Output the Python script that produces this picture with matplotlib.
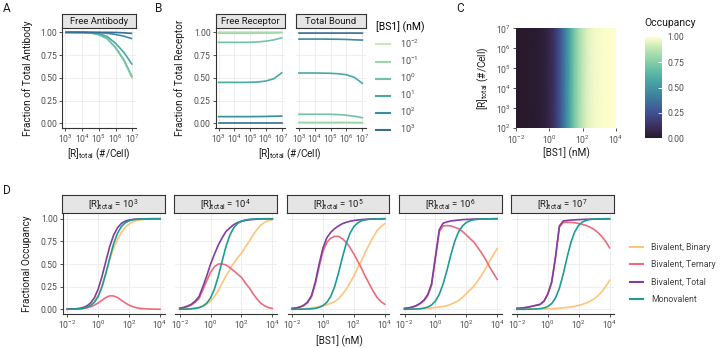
import matplotlib
matplotlib.use("Agg")
import matplotlib.pyplot as plt
from matplotlib.colors import LinearSegmentedColormap
from matplotlib.lines import Line2D
from matplotlib.ticker import FixedLocator, LogFormatterMathtext, NullLocator

plt.rcParams["font.family"] = ["Roboto", "DejaVu Sans"]
plt.rcParams["mathtext.fontset"] = "custom"
plt.rcParams["mathtext.rm"] = "Roboto"
plt.rcParams["mathtext.it"] = "Roboto:italic"
plt.rcParams["mathtext.bf"] = "Roboto:bold"

# ---- panel A / B data: x = log10 [R]total
r_exp = [3, 3.5, 4, 4.5, 5, 5.5, 6, 6.5, 7]
bs1_levels = ["$10^{-2}$", "$10^{-1}$", "$10^{0}$", "$10^{1}$", "$10^{2}$", "$10^{3}$"]
bs1_colors = ["#c6e9b2", "#9bd6a8", "#70c2a6", "#49a8a5", "#3a8c9f", "#376e95"]

free_ab = [
    [1.0, 1.0, 0.999, 0.994, 0.975, 0.93, 0.83, 0.69, 0.495],
    [1.0, 1.0, 0.999, 0.994, 0.975, 0.93, 0.83, 0.69, 0.498],
    [1.0, 1.0, 0.999, 0.994, 0.976, 0.932, 0.835, 0.70, 0.51],
    [1.0, 1.0, 0.999, 0.997, 0.985, 0.955, 0.88, 0.78, 0.645],
    [1.0, 1.0, 1.0, 0.999, 0.997, 0.99, 0.977, 0.958, 0.93],
    [1.0, 1.0, 1.0, 1.0, 1.0, 1.0, 0.999, 0.995, 0.988],
]
free_rec = [
    [0.999, 0.999, 0.999, 0.999, 0.999, 0.999, 0.999, 0.999, 0.999],
    [0.99, 0.99, 0.99, 0.99, 0.99, 0.991, 0.992, 0.993, 0.995],
    [0.89, 0.89, 0.89, 0.89, 0.891, 0.895, 0.903, 0.917, 0.94],
    [0.45, 0.45, 0.45, 0.45, 0.451, 0.455, 0.465, 0.49, 0.555],
    [0.074, 0.074, 0.074, 0.074, 0.074, 0.075, 0.076, 0.078, 0.08],
    [0.008, 0.008, 0.008, 0.008, 0.008, 0.008, 0.008, 0.008, 0.008],
]
total_bound = [
    [0.001, 0.001, 0.001, 0.001, 0.001, 0.001, 0.001, 0.001, 0.001],
    [0.01, 0.01, 0.01, 0.01, 0.01, 0.01, 0.01, 0.009, 0.008],
    [0.10, 0.10, 0.10, 0.10, 0.099, 0.096, 0.089, 0.078, 0.062],
    [0.553, 0.553, 0.553, 0.552, 0.55, 0.545, 0.534, 0.505, 0.44],
    [0.926, 0.926, 0.926, 0.926, 0.925, 0.924, 0.922, 0.918, 0.915],
    [0.992, 0.992, 0.992, 0.992, 0.992, 0.992, 0.992, 0.992, 0.991],
]

# ---- panel C data: occupancy vs log10 [BS1], rows over log10 [R]total
heat_bs1_exp = [-2, -1.75, -1.5, -1.25, -1, -0.75, -0.5, -0.25, 0, 0.25, 0.5, 0.75, 1,
                1.25, 1.5, 1.75, 2, 2.25, 2.5, 2.75, 3, 3.25, 3.5, 3.75, 4]
heat_r_exp = [2, 7]
heat_occ = [0.001, 0.001, 0.003, 0.005, 0.008, 0.014, 0.025, 0.043, 0.074, 0.124, 0.20, 0.31, 0.44,
            0.585, 0.715, 0.817, 0.888, 0.934, 0.962, 0.978, 0.988, 0.993, 0.996, 0.998, 0.999]

# ---- panel D data: x = log10 [BS1] (nM)
bs1_exp = [-2, -1.75, -1.5, -1.25, -1, -0.75, -0.5, -0.25, 0, 0.25, 0.5, 0.75, 1,
           1.25, 1.5, 1.75, 2, 2.25, 2.5, 2.75, 3, 3.25, 3.5, 3.75, 4]
r_panels = [3, 4, 5, 6, 7]

binary_r3 = [0.0, 0.001, 0.003, 0.005, 0.010, 0.020, 0.041, 0.081, 0.154, 0.265, 0.404, 0.548, 0.673,
             0.771, 0.848, 0.903, 0.941, 0.966, 0.980, 0.989, 0.994, 0.997, 0.998, 0.999, 0.999]
ternary_r3 = [0.001, 0.001, 0.002, 0.004, 0.008, 0.015, 0.027, 0.045, 0.07, 0.10, 0.13, 0.148, 0.147,
              0.13, 0.10, 0.07, 0.045, 0.027, 0.016, 0.009, 0.005, 0.003, 0.002, 0.001, 0.001]
total_r3 = [0.001, 0.002, 0.005, 0.009, 0.018, 0.035, 0.068, 0.126, 0.224, 0.365, 0.534, 0.696, 0.820,
            0.901, 0.948, 0.973, 0.986, 0.993, 0.996, 0.998, 0.999, 1.0, 1.0, 1.0, 1.0]
mono_r3 = [0.001, 0.001, 0.003, 0.005, 0.010, 0.021, 0.040, 0.077, 0.142, 0.249, 0.398, 0.569, 0.725,
           0.840, 0.913, 0.954, 0.977, 0.988, 0.994, 0.997, 0.998, 0.999, 1.0, 1.0, 1.0]

binary_r4 = [0.002, 0.003, 0.005, 0.008, 0.013, 0.022, 0.035, 0.055, 0.09, 0.14, 0.21, 0.29, 0.37,
             0.44, 0.51, 0.57, 0.62, 0.69, 0.75, 0.82, 0.88, 0.93, 0.96, 0.98, 0.99]
ternary_r4 = [0.010, 0.017, 0.030, 0.047, 0.077, 0.118, 0.215, 0.315, 0.41, 0.47, 0.50, 0.50, 0.49,
              0.46, 0.425, 0.388, 0.352, 0.291, 0.238, 0.172, 0.115, 0.067, 0.038, 0.019, 0.009]
total_r4 = [0.012, 0.02, 0.035, 0.055, 0.09, 0.14, 0.25, 0.37, 0.50, 0.61, 0.71, 0.79, 0.86,
            0.90, 0.935, 0.958, 0.972, 0.981, 0.988, 0.992, 0.995, 0.997, 0.998, 0.999, 0.999]
mono_r4 = [0.001, 0.001, 0.002, 0.005, 0.009, 0.018, 0.035, 0.068, 0.126, 0.224, 0.365, 0.534, 0.696,
           0.820, 0.901, 0.948, 0.973, 0.986, 0.993, 0.996, 0.998, 0.999, 1.0, 1.0, 1.0]

binary_r5 = [0.001, 0.002, 0.003, 0.005, 0.008, 0.015, 0.022, 0.03, 0.04, 0.05, 0.065, 0.085, 0.115,
             0.165, 0.22, 0.292, 0.37, 0.456, 0.54, 0.634, 0.716, 0.798, 0.869, 0.914, 0.945]
ternary_r5 = [0.009, 0.013, 0.022, 0.04, 0.072, 0.135, 0.278, 0.47, 0.64, 0.74, 0.785, 0.805, 0.805,
              0.78, 0.74, 0.68, 0.61, 0.53, 0.45, 0.36, 0.28, 0.20, 0.13, 0.085, 0.055]
total_r5 = [0.01, 0.015, 0.025, 0.045, 0.08, 0.15, 0.30, 0.50, 0.68, 0.79, 0.85, 0.89, 0.92,
            0.945, 0.96, 0.972, 0.98, 0.986, 0.99, 0.994, 0.996, 0.998, 0.999, 0.999, 1.0]
mono_r5 = [0.0, 0.0, 0.001, 0.001, 0.003, 0.005, 0.010, 0.021, 0.040, 0.077, 0.142, 0.249, 0.398,
           0.569, 0.725, 0.840, 0.913, 0.954, 0.977, 0.988, 0.994, 0.997, 0.999, 0.999, 1.0]

binary_r6 = [0.001, 0.002, 0.003, 0.004, 0.006, 0.008, 0.011, 0.015, 0.02, 0.025, 0.03, 0.04, 0.055,
             0.075, 0.095, 0.13, 0.172, 0.214, 0.256, 0.317, 0.378, 0.449, 0.529, 0.60, 0.67]
ternary_r6 = [0.009, 0.013, 0.022, 0.036, 0.059, 0.092, 0.149, 0.265, 0.56, 0.855, 0.92, 0.925, 0.92,
              0.905, 0.89, 0.86, 0.82, 0.78, 0.74, 0.68, 0.62, 0.55, 0.47, 0.40, 0.33]
total_r6 = [0.01, 0.015, 0.025, 0.04, 0.065, 0.10, 0.16, 0.28, 0.58, 0.88, 0.95, 0.965, 0.975,
            0.98, 0.985, 0.99, 0.992, 0.994, 0.996, 0.997, 0.998, 0.999, 0.999, 1.0, 1.0]
mono_r6 = [0.0, 0.001, 0.001, 0.003, 0.006, 0.012, 0.024, 0.047, 0.09, 0.165, 0.28, 0.43, 0.60,
           0.75, 0.855, 0.92, 0.958, 0.978, 0.989, 0.994, 0.997, 0.998, 0.999, 1.0, 1.0]

binary_r7 = [0.001, 0.001, 0.001, 0.002, 0.002, 0.003, 0.003, 0.004, 0.005, 0.007, 0.009, 0.012, 0.016,
             0.02, 0.026, 0.033, 0.042, 0.055, 0.07, 0.09, 0.115, 0.15, 0.195, 0.25, 0.32]
ternary_r7 = [0.009, 0.012, 0.017, 0.023, 0.033, 0.042, 0.052, 0.086, 0.165, 0.293, 0.571, 0.908, 0.959,
              0.96, 0.959, 0.955, 0.948, 0.937, 0.924, 0.905, 0.881, 0.847, 0.803, 0.749, 0.679]
total_r7 = [0.01, 0.013, 0.018, 0.025, 0.035, 0.045, 0.055, 0.09, 0.17, 0.30, 0.58, 0.92, 0.975,
            0.98, 0.985, 0.988, 0.99, 0.992, 0.994, 0.995, 0.996, 0.997, 0.998, 0.999, 0.999]
mono_r7 = [0.0, 0.0, 0.0, 0.001, 0.002, 0.003, 0.007, 0.015, 0.031, 0.063, 0.125, 0.232, 0.390,
           0.574, 0.740, 0.858, 0.927, 0.964, 0.983, 0.992, 0.996, 0.998, 0.999, 1.0, 1.0]

species = ["Bivalent, Binary", "Bivalent, Ternary", "Bivalent, Total", "Monovalent"]
species_colors = ["#ffc47a", "#ee6a7c", "#7e3fa0", "#1f9b95"]
panel_series = [
    [binary_r3, ternary_r3, total_r3, mono_r3],
    [binary_r4, ternary_r4, total_r4, mono_r4],
    [binary_r5, ternary_r5, total_r5, mono_r5],
    [binary_r6, ternary_r6, total_r6, mono_r6],
    [binary_r7, ternary_r7, total_r7, mono_r7],
]

deep_r = LinearSegmentedColormap.from_list(
    "deep_r", ["#281a2c", "#3b2f5c", "#40498a", "#3e6a9a", "#3f88a0",
               "#48a3a4", "#62bda7", "#8fd3aa", "#c0e6b5", "#fdfecc"])

W, H = 720, 348
GRID = "#ebebeb"
AXC = "#333333"
TICKC = "#4d4d4d"
TICK_FS = 6.2

fig = plt.figure(figsize=(W / 100, H / 100), dpi=100)


def rect(x0, y0, x1, y1):
    return [x0 / W, 1 - y1 / H, (x1 - x0) / W, (y1 - y0) / H]


def ftext(x, y, s, **kw):
    kw.setdefault("ha", "center")
    kw.setdefault("va", "center")
    kw.setdefault("fontsize", 7.2)
    kw.setdefault("color", "#1a1a1a")
    fig.text(x / W, 1 - y / H, s, **kw)


def style(ax, xlim, xticks, left=True):
    ax.set_xscale("log")
    ax.set_xlim(*xlim)
    ax.set_ylim(-0.05, 1.05)
    ax.xaxis.set_major_locator(FixedLocator(xticks))
    ax.xaxis.set_major_formatter(LogFormatterMathtext())
    ax.xaxis.set_minor_locator(NullLocator())
    ax.set_yticks([0, 0.25, 0.5, 0.75, 1.0])
    ax.set_yticklabels(["0.00", "0.25", "0.50", "0.75", "1.00"])
    ax.grid(True, color=GRID, lw=0.6)
    ax.set_axisbelow(True)
    for s in ["top", "right"]:
        ax.spines[s].set_visible(False)
    for s in ["left", "bottom"]:
        ax.spines[s].set_color(AXC)
        ax.spines[s].set_linewidth(0.8)
    ax.tick_params(length=2, width=0.6, color=AXC, labelsize=TICK_FS, labelcolor=TICKC, pad=1.5)
    if not left:
        ax.spines["left"].set_visible(False)
        ax.tick_params(axis="y", left=False, labelleft=False)


def strip(x0, x1, y0, y1, label):
    s = fig.add_axes(rect(x0, y0, x1, y1))
    s.set_facecolor("#e5e5e5")
    s.set_xticks([])
    s.set_yticks([])
    for sp in s.spines.values():
        sp.set_color(AXC)
        sp.set_linewidth(0.8)
    s.text(0.5, 0.45, label, ha="center", va="center", fontsize=6.8, color="#1a1a1a",
           transform=s.transAxes)


rx = [10 ** e for e in r_exp]
r_lim = (10 ** 2.8, 10 ** 7.2)
r_ticks = [1e3, 1e4, 1e5, 1e6, 1e7]

# ---- A
axA = fig.add_axes(rect(62, 27.8, 135.6, 127.9))
style(axA, r_lim, r_ticks)
for vals, c in zip(free_ab, bs1_colors):
    axA.plot(rx, vals, color=c, lw=1.2, solid_capstyle="butt")
strip(62, 135.6, 14, 27.5, "Free Antibody")
ftext(99, 154, r"[R]$_{\mathrm{total}}$ (#/Cell)")
ftext(28, 78, "Fraction of Total Antibody", rotation=90)

# ---- B
axB1 = fig.add_axes(rect(215.5, 27.8, 284.8, 127.9))
style(axB1, r_lim, r_ticks)
for vals, c in zip(free_rec, bs1_colors):
    axB1.plot(rx, vals, color=c, lw=1.2)
strip(215.5, 284.8, 14, 27.5, "Free Receptor")
axB2 = fig.add_axes(rect(295.8, 27.8, 365.5, 127.9))
style(axB2, r_lim, r_ticks, left=False)
for vals, c in zip(total_bound, bs1_colors):
    axB2.plot(rx, vals, color=c, lw=1.2)
strip(295.8, 365.5, 14, 27.5, "Total Bound")
ftext(290, 154, r"[R]$_{\mathrm{total}}$ (#/Cell)")
ftext(180, 78, "Fraction of Total Receptor", rotation=90)

bs1_handles = [Line2D([], [], color=c, lw=1.5) for c in bs1_colors]
legB = fig.legend(bs1_handles, bs1_levels, title="[BS1] (nM)", loc="upper left",
                  bbox_to_anchor=(376 / W, 1 - 21 / H), frameon=False, fontsize=6.5,
                  title_fontsize=7.5, labelspacing=0.52, handlelength=1.5, handletextpad=1.2,
                  borderpad=0, borderaxespad=0, alignment="left")
for t in legB.get_texts():
    t.set_color(TICKC)

# ---- C
axC = fig.add_axes(rect(516, 28.3, 616, 128.3))
hx = [10 ** e for e in heat_bs1_exp]
hy = [10 ** e for e in heat_r_exp]
mesh = axC.pcolormesh(hx, hy, [heat_occ for _ in heat_r_exp], cmap=deep_r, vmin=0, vmax=1,
                      shading="gouraud")
axC.set_xscale("log")
axC.set_yscale("log")
axC.set_xlim(1e-2, 1e4)
axC.set_ylim(1e2, 1e7)
axC.xaxis.set_major_locator(FixedLocator([1e-2, 1e0, 1e2, 1e4]))
axC.yaxis.set_major_locator(FixedLocator([1e2, 1e3, 1e4, 1e5, 1e6, 1e7]))
axC.xaxis.set_major_formatter(LogFormatterMathtext())
axC.yaxis.set_major_formatter(LogFormatterMathtext())
axC.xaxis.set_minor_locator(NullLocator())
axC.yaxis.set_minor_locator(NullLocator())
for sp in axC.spines.values():
    sp.set_visible(False)
axC.tick_params(length=2, width=0.6, color=AXC, labelsize=TICK_FS, labelcolor=TICKC, pad=1.5)
ftext(566, 153, "[BS1] (nM)")
ftext(483, 78, r"[R]$_{\mathrm{total}}$ (#/Cell)", rotation=90)

cax = fig.add_axes(rect(645, 37, 662, 138))
cb = fig.colorbar(mesh, cax=cax, ticks=[0, 0.25, 0.5, 0.75, 1.0])
cb.ax.set_yticklabels(["0.00", "0.25", "0.50", "0.75", "1.00"])
cb.outline.set_visible(False)
cb.ax.tick_params(direction="in", length=3, width=0.6, color="white", labelsize=6.2,
                  labelcolor=TICKC, pad=4)
ftext(644, 23, "Occupancy", ha="left", fontsize=7.5)

# ---- D
bx = [10 ** e for e in bs1_exp]
bs_lim = (10 ** -2.3, 10 ** 4.3)
for i, (rp, series) in enumerate(zip(r_panels, panel_series)):
    x0 = 62.7 + 112.4 * i
    ax = fig.add_axes(rect(x0, 214.2, x0 + 101.9, 313.8))
    style(ax, bs_lim, [1e-2, 1e0, 1e2, 1e4], left=(i == 0))
    for vals, c in zip(series, species_colors):
        ax.plot(bx, vals, color=c, lw=1.2)
    strip(x0 - 1, x0 + 101.9, 195, 213.3, r"[R]$_{\mathrm{total}}$ = 10$^{%d}$" % rp)
ftext(339, 341, "[BS1] (nM)")
ftext(27, 264, "Fractional Occupancy", rotation=90)

sp_handles = [Line2D([], [], color=c, lw=1.5) for c in species_colors]
legD = fig.legend(sp_handles, species, loc="upper left", bbox_to_anchor=(630 / W, 1 - 243 / H),
                  frameon=False, fontsize=6.3, labelspacing=0.95, handlelength=1.5,
                  handletextpad=0.9, borderpad=0, borderaxespad=0)
for t in legD.get_texts():
    t.set_color("#444444")

# ---- panel letters
for x, y, s in [(3, 8, "A"), (155, 8, "B"), (456, 8, "C"), (3, 190, "D")]:
    ftext(x, y, s, ha="left", fontsize=8.5)

fig.savefig("out.png", dpi=100)
